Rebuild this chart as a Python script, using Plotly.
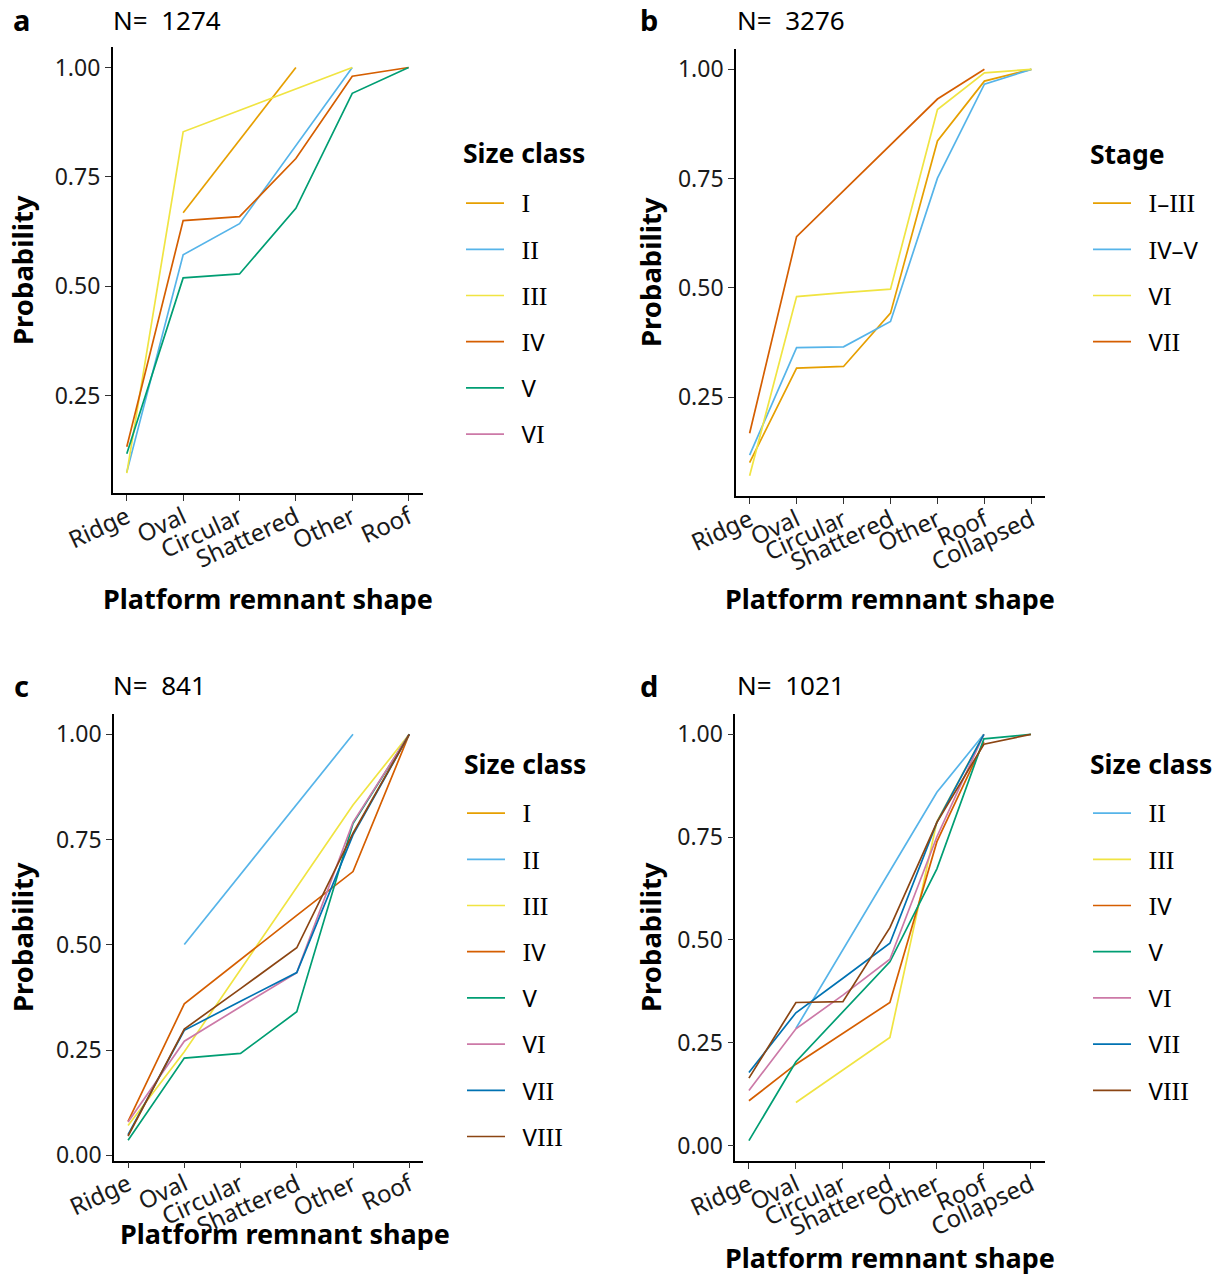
import plotly.graph_objects as go

# Category order of the platform remnant shapes
shapes6 = ["Ridge", "Oval", "Circular", "Shattered", "Other", "Roof"]
shapes7 = ["Ridge", "Oval", "Circular", "Shattered", "Other", "Roof", "Collapsed"]

# Class labels (Roman numerals)
I, II, III, IV, V, VI, VII, VIII = "I", "II", "III", "IV", "V", "VI", "VII", "VIII"

# Panel a: size classes, N = 1274
a_I = [None, 0.668, None, 1.000, None, None]
a_II = [0.075, 0.572, 0.643, 0.822, 1.000, None]
a_III = [0.073, 0.853, None, None, 1.000, None]
a_IV = [0.133, 0.650, 0.659, 0.792, 0.980, 1.000]
a_V = [0.117, 0.519, 0.528, 0.678, 0.941, 1.000]
a_VI = [None, None, None, None, None, 1.000]

# Panel b: stages, N = 3276
b_I_III = [0.100, 0.316, 0.320, 0.442, 0.836, 0.973, 1.000]
b_IV_V = [0.117, 0.363, 0.365, 0.423, 0.751, 0.966, 1.000]
b_VI = [0.070, 0.480, 0.489, 0.497, 0.908, 0.992, 1.000]
b_VII = [0.167, 0.617, None, None, 0.932, 1.000, None]

# Panel c: size classes, N = 841
c_I = [None, None, None, None, None, 1.000]
c_II = [None, 0.501, None, None, 1.000, None]
c_III = [0.071, 0.246, None, None, 0.832, 1.000]
c_IV = [0.081, 0.360, None, 0.570, 0.674, 1.000]
c_V = [0.036, 0.231, 0.242, 0.341, 0.788, 1.000]
c_VI = [0.079, 0.271, 0.353, 0.434, 0.791, 1.000]
c_VII = [0.049, 0.297, 0.366, 0.434, 0.761, 1.000]
c_VIII = [0.046, 0.300, 0.396, 0.493, 0.765, 1.000]

# Panel d: size classes, N = 1021
d_II = [None, 0.285, None, 0.666, 0.859, 1.000, None]
d_III = [None, 0.105, None, 0.263, 0.788, 1.000, None]
d_IV = [0.109, 0.198, None, 0.348, 0.739, 0.982, None]
d_V = [0.012, 0.204, None, 0.447, 0.673, 0.989, 1.000]
d_VI = [0.134, 0.284, 0.366, 0.453, 0.751, 1.000, None]
d_VII = [0.178, 0.323, 0.407, 0.492, 0.786, 1.000, None]
d_VIII = [0.164, 0.348, 0.350, 0.530, 0.786, 0.976, 1.000]

sample_sizes = {"a": 1274, "b": 3276, "c": 841, "d": 1021}

# Okabe-Ito style palette per class
COL = {
    I: "#E69F00", II: "#56B4E9", III: "#F0E442", IV: "#D55E00",
    V: "#009E73", VI: "#CC79A7", VII: "#0072B2", VIII: "#8B4513",
}

FONT = "Noto Sans"
W, H = 1221, 1275


def numeral_label(label):
    """Legend text: serif strokes for 'I', sans for the rest."""
    out = []
    for ch in label:
        if ch == "I":
            out.append('<span style="font-family:\'Liberation Serif\';font-size:26px">I</span>')
        else:
            out.append(ch)
    return "\u00a0\u00a0" + "".join(out)


panels = [
    dict(key="a", cats=shapes6, legend="legend", legtitle="Size class",
         series=[(I, a_I, COL[I]), (II, a_II, COL[II]), (III, a_III, COL[III]),
                 (IV, a_IV, COL[IV]), (V, a_V, COL[V]), (VI, a_VI, COL[VI])],
         px=(112.7, 422.7), py=(47.2, 493.3), xpad=0.25,
         legtitle_xy=(461, 153), leg=(461, 181), letter=(21, 20), ntext=(111, 20),
         ytitle=(22, 270), xtitle=(268, 598)),
    dict(key="b", cats=shapes7, legend="legend2", legtitle="Stage",
         series=[(I + "–" + III, b_I_III, COL[I]), (IV + "–" + V, b_IV_V, COL[II]),
                 (VI, b_VI, COL[III]), (VII, b_VII, COL[IV])],
         px=(736, 1045), py=(49.0, 496.0), xpad=0.29,
         legtitle_xy=(1088, 154), leg=(1088, 181), letter=(649, 20), ntext=(735, 20),
         ytitle=(650, 272), xtitle=(890, 598)),
    dict(key="c", cats=shapes6, legend="legend3", legtitle="Size class",
         series=[(I, c_I, COL[I]), (II, c_II, COL[II]), (III, c_III, COL[III]),
                 (IV, c_IV, COL[IV]), (V, c_V, COL[V]), (VI, c_VI, COL[VI]),
                 (VII, c_VII, COL[VII]), (VIII, c_VIII, COL[VIII])],
         px=(114, 423.3), py=(714.0, 1160.5), xpad=0.25,
         legtitle_xy=(462, 764), leg=(462, 791), letter=(21, 685), ntext=(111, 685),
         ytitle=(22, 937), xtitle=(285, 1233)),
    dict(key="d", cats=shapes7, legend="legend4", legtitle="Size class",
         series=[(II, d_II, COL[II]), (III, d_III, COL[III]), (IV, d_IV, COL[IV]),
                 (V, d_V, COL[V]), (VI, d_VI, COL[VI]), (VII, d_VII, COL[VII]),
                 (VIII, d_VIII, COL[VIII])],
         px=(735.3, 1044.5), py=(714.0, 1161.0), xpad=0.29,
         legtitle_xy=(1088, 764), leg=(1088, 791), letter=(649, 685), ntext=(735, 685),
         ytitle=(650, 937), xtitle=(890, 1257)),
]

fig = go.Figure()
layout = dict(
    width=W, height=H, margin=dict(l=0, r=0, t=0, b=0, autoexpand=False),
    paper_bgcolor="white", plot_bgcolor="white",
    font=dict(family=FONT, size=22, color="black"),
    annotations=[],
)

axis_common = dict(
    showline=True, linecolor="black", linewidth=1.6,
    ticks="outside", ticklen=6, tickwidth=1.4, tickcolor="#333333",
    showgrid=False, zeroline=False, mirror=False, automargin=False,
)

for i, p in enumerate(panels, start=1):
    xa = "x" if i == 1 else f"x{i}"
    ya = "y" if i == 1 else f"y{i}"
    for gi, (name, vals, color) in enumerate(p["series"]):
        fig.add_trace(go.Scatter(
            x=p["cats"], y=vals, name=numeral_label(name), mode="lines",
            line=dict(color=color, width=1.7), connectgaps=True,
            xaxis=xa, yaxis=ya, legend=p["legend"],
            legendgroup=f"{p['key']}{gi}", showlegend=True,
        ))

    # y range with 5% expansion around the data
    allv = [v for _, vals, _ in p["series"] for v in vals if v is not None]
    lo, hi = min(allv), max(allv)
    span = hi - lo
    yr = [lo - 0.05 * span, hi + 0.05 * span]

    x0, x1 = p["px"]
    ytop, ybot = p["py"]
    n = len(p["cats"])
    layout["xaxis" if i == 1 else f"xaxis{i}"] = dict(
        axis_common, domain=[x0 / W, x1 / W], anchor=ya,
        type="category", categoryorder="array", categoryarray=p["cats"],
        range=[-p["xpad"], n - 1 + p["xpad"]], tickangle=-25,
        tickfont=dict(family=FONT, size=24, color="#1a1a1a"),
        ticklabelstandoff=-7,
    )
    layout["yaxis" if i == 1 else f"yaxis{i}"] = dict(
        axis_common, domain=[1 - ybot / H, 1 - ytop / H], anchor=xa,
        range=yr, tick0=0, dtick=0.25, tickformat=".2f",
        tickfont=dict(family=FONT, size=23, color="#1a1a1a"),
    )
    lx, ly = p["leg"]
    layout[p["legend"]] = dict(
        x=lx / W, y=1 - ly / H, xanchor="left", yanchor="top",
        font=dict(family=FONT, size=24, color="black"),
        tracegroupgap=12, itemwidth=38, bgcolor="rgba(0,0,0,0)",
    )

    ann = layout["annotations"]
    ann.append(dict(text="<b>" + p["legtitle"] + "</b>",
                    x=p["legtitle_xy"][0] / W, y=1 - p["legtitle_xy"][1] / H,
                    xref="paper", yref="paper", showarrow=False, xanchor="left", yanchor="middle",
                    font=dict(family=FONT, size=26.5, color="black")))
    ann.append(dict(text="<b>" + p["key"] + "</b>", x=p["letter"][0] / W, y=1 - p["letter"][1] / H,
                    xref="paper", yref="paper", showarrow=False, xanchor="center", yanchor="middle",
                    font=dict(family=FONT, size=29, color="black")))
    ann.append(dict(text="N=\u00a0 " + str(sample_sizes[p["key"]]),
                    x=p["ntext"][0] / W, y=1 - p["ntext"][1] / H,
                    xref="paper", yref="paper", showarrow=False, xanchor="left", yanchor="middle",
                    font=dict(family=FONT, size=26, color="black")))
    ann.append(dict(text="<b>Probability</b>", x=p["ytitle"][0] / W, y=1 - p["ytitle"][1] / H,
                    xref="paper", yref="paper", showarrow=False, textangle=-90,
                    xanchor="center", yanchor="middle",
                    font=dict(family=FONT, size=27.5, color="black")))
    ann.append(dict(text="<b>Platform remnant shape</b>", x=p["xtitle"][0] / W, y=1 - p["xtitle"][1] / H,
                    xref="paper", yref="paper", showarrow=False,
                    xanchor="center", yanchor="middle",
                    font=dict(family=FONT, size=27, color="black")))

fig.update_layout(**layout)
fig.write_html("out.html")
